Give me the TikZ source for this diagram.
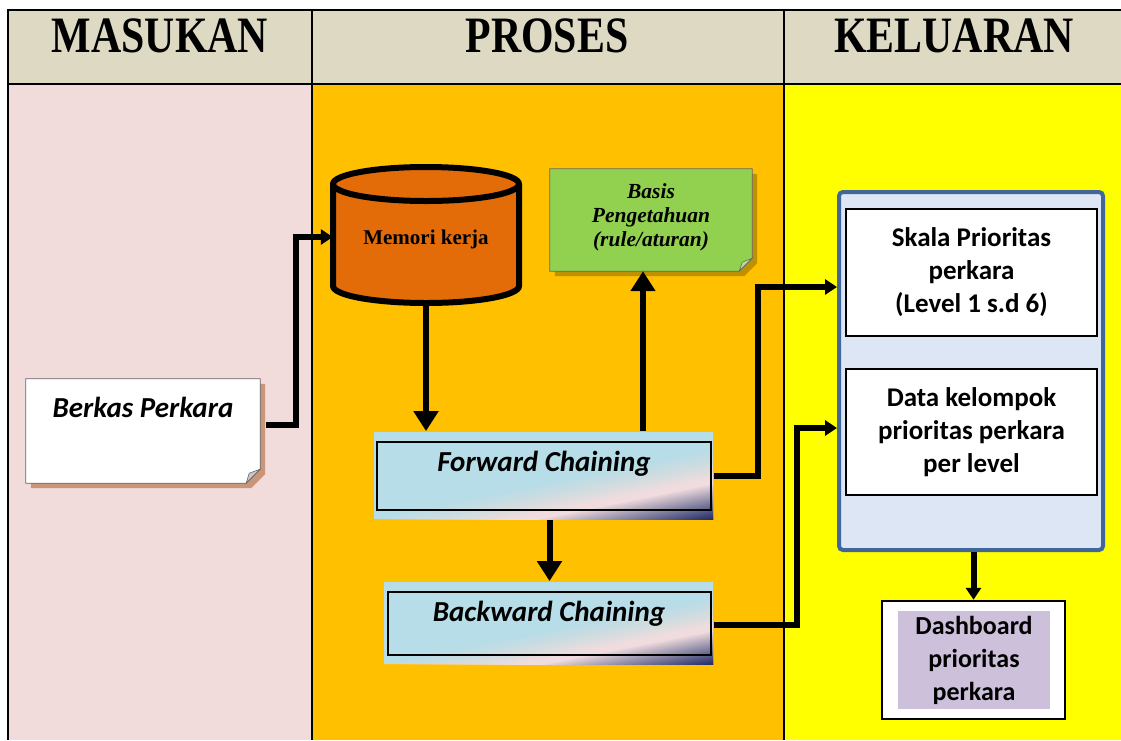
\documentclass[tikz,border=0pt]{standalone}
\usepackage{fontspec}
\setmainfont{Liberation Serif}
\newfontfamily\calibri{Carlito}
\usetikzlibrary{arrows.meta,calc,shadows}

\definecolor{hdr}{HTML}{DDD9C3}
\definecolor{colin}{HTML}{F2DCDB}
\definecolor{colproc}{HTML}{FFC000}
\definecolor{colout}{HTML}{FFFF00}
\definecolor{memfill}{HTML}{E36C09}
\definecolor{kbfill}{HTML}{92D050}
\definecolor{kbshadow}{HTML}{BF9000}
\definecolor{kbfold}{HTML}{B8E08F}
\definecolor{notefold}{HTML}{C8C8C8}
\definecolor{noteshadow}{HTML}{C9967A}
\definecolor{chainblue}{HTML}{B7DDE8}
\definecolor{chainpink}{HTML}{F0DCDE}
\definecolor{chainnavy}{HTML}{1F2A66}
\definecolor{contfill}{HTML}{DCE6F4}
\definecolor{contline}{HTML}{41679A}
\definecolor{dashfill}{HTML}{CCC0DA}

\newcommand\hdrlabel[1]{\scalebox{0.82}[1]{#1}}

% diagonal blue-pink-navy gradient filling the rectangle (#1,#2)-(#3,#4);
% level t = 0.8*a + b, a and b running 0..1 across and down the rectangle
\newcommand\chainfill[4]{%
  \begin{scope}
    \clip (#1,#2) rectangle (#3,#4);
    \fill[chainblue] (#1,#2) rectangle (#3,#4);
    \foreach \k in {1,...,16}{%
      \pgfmathsetmacro\chainlev{1.0+0.32*(\k-1)/15}%
      \pgfmathsetmacro\chainop{1/(17-\k)}%
      \fill[chainpink, fill opacity=\chainop]
        ({#1-2},{#2+(#4-#2)*\chainlev}) -- ({#3+2},{#2+(#4-#2)*(\chainlev-0.8)})
        -- ({#3+2},{#2+3*(#4-#2)}) -- ({#1-2},{#2+3*(#4-#2)}) -- cycle;
    }
    \foreach \k in {1,...,20}{%
      \pgfmathsetmacro\chainlev{1.40+0.40*(\k-1)/19}%
      \pgfmathsetmacro\chainop{1/(21-\k)}%
      \fill[chainnavy, fill opacity=\chainop]
        ({#1-2},{#2+(#4-#2)*\chainlev}) -- ({#3+2},{#2+(#4-#2)*(\chainlev-0.8)})
        -- ({#3+2},{#2+3*(#4-#2)}) -- ({#1-2},{#2+3*(#4-#2)}) -- cycle;
    }
  \end{scope}}

\tikzset{
  grid/.style={line width=1.5pt, black},
  hdrtext/.style={anchor=base, inner sep=0pt, font=\fontsize{51}{51}\selectfont\bfseries},
  notepen/.style={draw=black!60, line width=0.8pt},
  foldpen/.style={draw=black!60, line width=0.6pt},
  notetext/.style={inner sep=0pt, font=\calibri\bfseries\itshape\fontsize{29}{32}\selectfont},
  kbtext/.style={inner sep=0pt, align=center, font=\bfseries\itshape\fontsize{21.5}{24}\selectfont},
  cyl/.style={line width=6pt, black},
  memtext/.style={inner sep=0pt, font=\bfseries\fontsize{21}{24}\selectfont},
  chainbox/.style={draw=black, line width=1.8pt, inner sep=0pt},
  chaintext/.style={inner sep=0pt, font=\calibri\bfseries\itshape\fontsize{29}{32}\selectfont},
  outbox/.style={draw=black, line width=1.5pt, fill=white, inner sep=0pt, align=center,
    font=\calibri\bfseries\fontsize{27}{33}\selectfont},
  conn/.style={line width=6pt, -{Triangle[width=24pt,length=20pt]}},
  connsm/.style={line width=6pt, -{Triangle[width=15pt,length=12pt]}},
}

\begin{document}
\begin{tikzpicture}[x=1pt,y=-1pt]
\useasboundingbox (0,0) rectangle (1121,740);
\fill[white] (0,0) rectangle (1121,740);

% table: header row and three columns
\fill[hdr] (8,10) rectangle (1121,84);
\fill[colin] (8,84) rectangle (312,740);
\fill[colproc] (312,84) rectangle (784,740);
\fill[colout] (784,84) rectangle (1121,740);
\draw[grid] (1121,10) -- (8,10) -- (8,740)
            (8,84) -- (1121,84)
            (312,10) -- (312,740)
            (784,10) -- (784,740);

\node[hdrtext] (hin) at (160,52) {\hdrlabel{MASUKAN}};
\node[hdrtext] (hproc) at (547,52) {\hdrlabel{PROSES}};
\node[hdrtext] (hout) at (954,52) {\hdrlabel{KELUARAN}};

% input document
\node[minimum width=234, minimum height=104, inner sep=0pt] (berkas) at (143,431) {};
\path[fill=white, notepen, drop shadow={shadow xshift=5pt, shadow yshift=-5pt, fill=noteshadow, opacity=1}]
  (berkas.north west) -- (berkas.north east) -- ([yshift=14pt]berkas.south east)
  -- ([xshift=-14pt]berkas.south east) -- (berkas.south west) -- cycle;
\filldraw[fill=notefold, foldpen] ([yshift=14pt]berkas.south east) -- ([xshift=-14pt]berkas.south east)
  -- ([xshift=-11pt,yshift=10pt]berkas.south east) -- cycle;
\node[notetext] (berkasT) at (143,407) {Berkas Perkara};

% working memory (cylinder)
\node[minimum width=186, minimum height=136, inner sep=0pt] (mem) at (426,235) {};
\fill[memfill] (333,184) -- (333,286) arc[start angle=180, end angle=0, x radius=93, y radius=17] -- (519,184) -- cycle;
\draw[cyl] (333,184) -- (333,286) arc[start angle=180, end angle=0, x radius=93, y radius=17] -- (519,184);
\filldraw[cyl, fill=memfill] (426,184) ellipse [x radius=93, y radius=17];
\node[memtext] (memT) at (426,239) {Memori kerja};

% knowledge base note
\node[minimum width=202, minimum height=102, inner sep=0pt] (basis) at (651,220) {};
\path[fill=kbfill, notepen, drop shadow={shadow xshift=5pt, shadow yshift=-5pt, fill=kbshadow, opacity=1}]
  (basis.north west) -- (basis.north east) -- ([yshift=13pt]basis.south east)
  -- ([xshift=-13pt]basis.south east) -- (basis.south west) -- cycle;
\filldraw[fill=kbfold, foldpen] ([yshift=13pt]basis.south east) -- ([xshift=-13pt]basis.south east)
  -- ([xshift=-10pt,yshift=9pt]basis.south east) -- cycle;
\node[kbtext] (basisT) at (651,217) {Basis\\Pengetahuan\\(rule/aturan)};

% inference steps
\chainfill{374}{432}{713}{519}
\node[chainbox, minimum width=334, minimum height=68] (fwd) at (544,476) {};
\node[chaintext] (fwdT) at (544,464) {Forward Chaining};

\chainfill{384}{582}{713}{664}
\node[chainbox, minimum width=323, minimum height=63] (bwd) at (549.5,623.5) {};
\node[chaintext] (bwdT) at (549,614) {Backward Chaining};

% outputs
\node[draw=contline, line width=4pt, rounded corners=4pt, fill=contfill,
      minimum width=264, minimum height=358, inner sep=0pt] (cont) at (971,371) {};
\node[outbox, minimum width=251, minimum height=127] (skala) at (971.5,272.5)
  {Skala Prioritas\\perkara\\(Level 1 s.d 6)};
\node[outbox, minimum width=251, minimum height=126] (kel) at (971.5,432)
  {Data kelompok\\prioritas perkara\\per level};

\node[draw=black, line width=2.5pt, fill=white, minimum width=183, minimum height=118, inner sep=0pt] (dash) at (973.5,660) {};
\node[fill=dashfill, minimum width=152, minimum height=98, inner sep=0pt, align=center,
      font=\calibri\bfseries\fontsize{26}{33}\selectfont] (dashT) at (974,660) {Dashboard\\prioritas\\perkara};

% connectors
\coordinate (jm) at (296,237);
\draw[connsm] ($(berkas.east)+(6,-6)$) -| (jm) -- (jm -| mem.west);
\draw[conn] (mem.south) -- ($(mem.south |- fwd.north)+(0,-10)$);
\draw[conn] ($(basis.south |- fwd.north)+(-8,-10)$) -- ($(basis.south)+(-8,0)$);
\draw[conn] ($(fwd.south -| bwd.north)+(0,9)$) -- ($(bwd.north)+(0,-10)$);
\coordinate (jf) at (758,287);
\draw[connsm] ($(fwd.east)+(2,0)$) -| (jf) -- (jf -| cont.west);
\coordinate (jb) at (797,428);
\draw[connsm] ($(bwd.east)+(2,1)$) -| (jb) -- (jb -| cont.west);
\draw[connsm] (cont.south -| dash.north) -- (dash.north);
\end{tikzpicture}
\end{document}
